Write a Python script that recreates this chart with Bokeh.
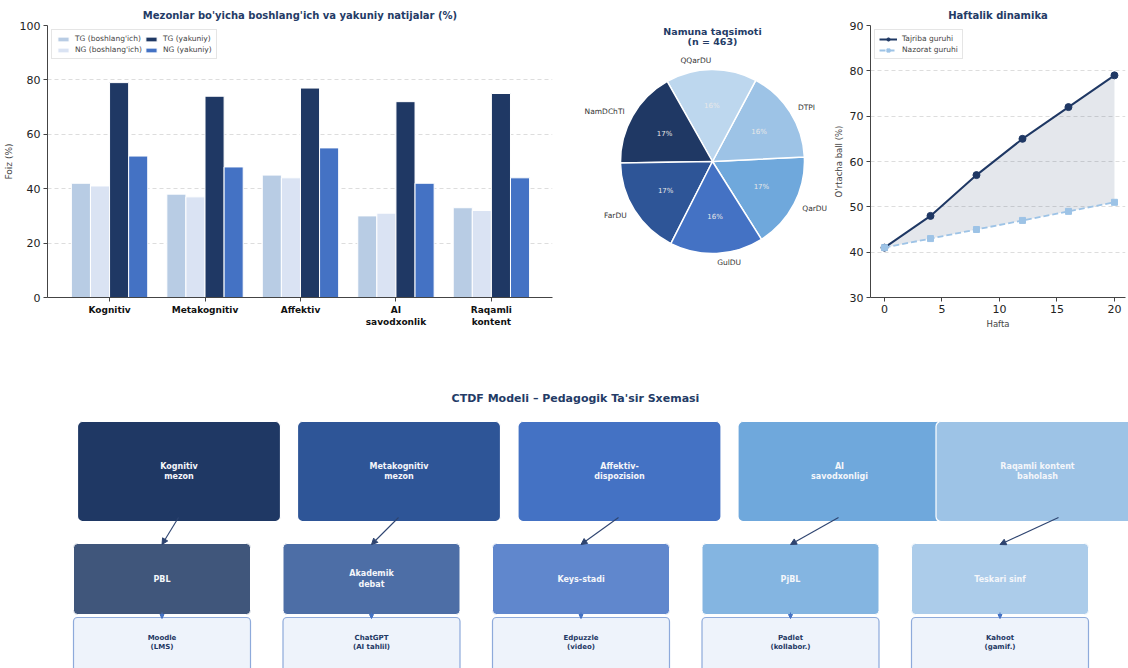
import numpy as np
from bokeh.plotting import figure
from bokeh.layouts import row, column
from bokeh.models import (ColumnDataSource, Legend, LegendItem, FixedTicker, Range1d,
                          Arrow, NormalHead, Label)
from bokeh.core.properties import value
from bokeh.embed import file_html
from bokeh.resources import INLINE

FONT = "DejaVu Sans"
NAVY = "#1f3864"
TITLE_C = "#243b66"

# ---------------- data ----------------
criteria = ["Kognitiv", "Metakognitiv", "Affektiv", "AI\nsavodxonlik", "Raqamli\nkontent"]
tg_pre = [42, 38, 45, 30, 33]
ng_pre = [41, 37, 44, 31, 32]
tg_post = [79, 74, 77, 72, 75]
ng_post = [52, 48, 55, 42, 44]
bar_series = ["TG (boshlang'ich)", "NG (boshlang'ich)", "TG (yakuniy)", "NG (yakuniy)"]

universities = ["QarDU", "DTPI", "QQarDU", "NamDChTI", "FarDU", "GulDU"]
counts = [78, 76, 74, 79, 80, 76]
pie_title = ["Namuna taqsimoti", "(n = 463)"]

weeks = [0, 4, 8, 12, 16, 20]
tg_weekly = [41, 48, 57, 65, 72, 79]
ng_weekly = [41, 43, 45, 47, 49, 51]

criteria_boxes = ["Kognitiv\nmezon", "Metakognitiv\nmezon", "Affektiv-\ndispozision",
                  "AI\nsavodxonligi", "Raqamli kontent\nbaholash"]
methods = ["PBL", "Akademik\ndebat", "Keys-stadi", "PjBL", "Teskari sinf"]
tools = ["Moodle\n(LMS)", "ChatGPT\n(AI tahlil)", "Edpuzzle\n(video)", "Padlet\n(kollabor.)", "Kahoot\n(gamif.)"]

# ---------------- styles ----------------
bar_colors = ["#b8cce4", "#dae3f3", "#1f3864", "#4472c4"]
pie_colors = ["#6fa8dc", "#9dc3e6", "#bdd7ee", "#1f3864", "#2e5597", "#4472c4"]
box_colors = ["#1f3864", "#2e5597", "#4472c4", "#6fa8dc", "#9dc3e6"]


def style_axes(p):
    p.outline_line_color = None
    p.xgrid.grid_line_color = None
    p.ygrid.grid_line_color = "#dddddd"
    p.ygrid.grid_line_dash = "4 3"
    for ax in (p.xaxis, p.yaxis):
        ax.axis_line_color = "#444444"
        ax.major_tick_line_color = "#444444"
        ax.minor_tick_line_color = None
        ax.major_tick_out = 4
        ax.major_tick_in = 0
        ax.major_label_standoff = 3
        ax.axis_label_standoff = 3
        ax.major_label_text_font = FONT
        ax.axis_label_text_font = FONT
        ax.axis_label_text_font_style = "normal"
        ax.major_label_text_color = "#222222"
    p.title.text_font = FONT
    p.title.text_font_style = "bold"
    p.title.text_color = TITLE_C
    p.title.align = "center"


# ---------------- bar chart ----------------
p1 = figure(width=560, height=335, x_range=Range1d(-0.65, 4.64), y_range=Range1d(0, 100),
            output_backend="svg", toolbar_location=None,
            min_border_left=47, min_border_right=8, min_border_top=25, min_border_bottom=38,
            title="Mezonlar bo'yicha boshlang'ich va yakuniy natijalar (%)")
style_axes(p1)
p1.title.text_font_size = "10px"
xs = np.arange(len(criteria))
w = 0.2
offsets = [-1.5 * w, -0.5 * w, 0.5 * w, 1.5 * w]
items = []
for vals, name, col, off in zip([tg_pre, ng_pre, tg_post, ng_post], bar_series, bar_colors, offsets):
    r = p1.vbar(x=xs + off, top=vals, width=w, fill_color=col, line_color="white", line_width=1)
    items.append(LegendItem(label=name, renderers=[r]))
p1.xaxis.ticker = FixedTicker(ticks=list(range(len(criteria))))
p1.xaxis.major_label_overrides = {i: c for i, c in enumerate(criteria)}
p1.xaxis.major_label_text_font_style = "bold"
p1.xaxis.major_label_text_font_size = "9px"
p1.xaxis.major_label_text_color = "#111111"
p1.yaxis.ticker = FixedTicker(ticks=[0, 20, 40, 60, 80, 100])
p1.yaxis.major_label_text_font_size = "11px"
p1.yaxis.axis_label = "Foiz (%)"
p1.yaxis.axis_label_text_font_size = "9px"
leg1 = Legend(items=items, location="top_left", ncols=2,
              label_text_font=FONT, label_text_font_size="7.5px", glyph_width=14, glyph_height=6,
              label_height=9, spacing=2, padding=4, margin=4, border_line_color="#cccccc",
              background_fill_alpha=0.9, label_standoff=5)
p1.add_layout(leg1)

# ---------------- pie chart ----------------
p2 = figure(frame_width=270, frame_height=272, x_range=Range1d(-1.652, 1.283), y_range=Range1d(-1.478, 1.478),
            output_backend="svg", toolbar_location=None,
            min_border_left=0, min_border_right=0, min_border_top=25, min_border_bottom=38,
            x_axis_type=None, y_axis_type=None, title_location=None)
p2.grid.grid_line_color = None
p2.outline_line_color = None
total = sum(counts)
start0 = np.deg2rad(-57.8)
fr = np.array(counts) / total * 2 * np.pi
ends = start0 + np.cumsum(fr)
starts = ends - fr
mids = (starts + ends) / 2
p2.wedge(x=0, y=0, radius=1, start_angle=starts, end_angle=ends, fill_color=pie_colors,
         line_color="white", line_width=1.5)
pct = [f"{round(100 * c / total)}%" for c in counts]
p2.text(x=0.6 * np.cos(mids), y=0.6 * np.sin(mids), text=pct, text_align="center",
        text_baseline="middle", text_font=value(FONT), text_font_size="7px", text_color="#e8e8e8")
lx = 1.1 * np.cos(mids)
ly = 1.1 * np.sin(mids)
aligns = ["left" if c > 0 else "right" for c in np.cos(mids)]
p2.text(x=lx, y=ly, text=universities, text_align=aligns, text_baseline="middle",
        text_font=value(FONT), text_font_size="7.5px", text_color="#333333")
for t, yy in zip(pie_title, [1.415, 1.305]):
    p2.add_layout(Label(x=0, y=yy, text=t, text_align="center", text_baseline="middle",
                        text_font=FONT, text_font_size="9.5px", text_font_style="bold",
                        text_color=TITLE_C))

# ---------------- line chart ----------------
p3 = figure(width=298, height=335, x_range=Range1d(-1.217, 20.96), y_range=Range1d(30, 90),
            output_backend="svg", toolbar_location=None,
            min_border_left=40, min_border_right=3, min_border_top=25, min_border_bottom=38,
            title="Haftalik dinamika")
style_axes(p3)
p3.title.text_font_size = "10px"
p3.varea(x=weeks, y1=ng_weekly, y2=tg_weekly, fill_color=NAVY, fill_alpha=0.12)
l_tg = p3.line(weeks, tg_weekly, line_color=NAVY, line_width=2)
s_tg = p3.scatter(weeks, tg_weekly, marker="circle", size=7, fill_color=NAVY, line_color=NAVY)
l_ng = p3.line(weeks, ng_weekly, line_color="#9dc3e6", line_width=1.8, line_dash="6 3")
s_ng = p3.scatter(weeks, ng_weekly, marker="square", size=6, fill_color="#9dc3e6", line_color="#9dc3e6")
p3.xaxis.ticker = FixedTicker(ticks=[0, 5, 10, 15, 20])
p3.yaxis.ticker = FixedTicker(ticks=[30, 40, 50, 60, 70, 80, 90])
p3.xaxis.major_label_text_font_size = "11px"
p3.yaxis.major_label_text_font_size = "11px"
p3.xaxis.axis_label = "Hafta"
p3.yaxis.axis_label = "O'rtacha ball (%)"
p3.xaxis.axis_label_text_font_size = "8.5px"
p3.yaxis.axis_label_text_font_size = "8.5px"
leg3 = Legend(items=[LegendItem(label="Tajriba guruhi", renderers=[l_tg, s_tg]),
                     LegendItem(label="Nazorat guruhi", renderers=[l_ng, s_ng])],
              location="top_left", label_text_font=FONT, label_text_font_size="7.5px",
              glyph_width=18, glyph_height=8, label_height=9, spacing=2, padding=4, margin=4,
              border_line_color="#cccccc", background_fill_alpha=0.9, label_standoff=5)
p3.add_layout(leg3)

# ---------------- diagram ----------------
p4 = figure(frame_width=1128, frame_height=333, x_range=Range1d(0, 1128), y_range=Range1d(668, 335),
            output_backend="svg", toolbar_location=None, min_border=0,
            x_axis_type=None, y_axis_type=None, title_location=None)
p4.grid.grid_line_color = None
p4.outline_line_color = None

top_cx = [178.5, 398.5, 619, 839, 1037]
arrow_sx = [178, 398, 618, 838, 1058]
mid_cx = [161.5 + 209.5 * i for i in range(5)]
top_w, top_y0, top_y1 = 203, 421, 521
mid_w, mid_y0, mid_y1 = 177, 543, 614
bot_y0, bot_y1 = 617, 674

p4.text(x=[575], y=[398], text=["CTDF Modeli \u2013 Pedagogik Ta'sir Sxemasi"], text_align="center",
        text_baseline="middle", text_font=value(FONT), text_font_size="11px", text_font_style="bold",
        text_color=TITLE_C)

tcx = np.array(top_cx)
p4.quad(left=tcx - top_w / 2, right=tcx + top_w / 2, top=top_y0, bottom=top_y1,
        fill_color=box_colors, line_color="white", line_width=1.2, border_radius=5)
p4.text(x=tcx, y=(top_y0 + top_y1) / 2, text=criteria_boxes, text_align="center", text_baseline="middle",
        text_font=value(FONT), text_font_size="8px", text_font_style="bold", text_color="#f4f6fa",
        text_line_height=1.15)

mcx = np.array(mid_cx)
p4.quad(left=mcx - mid_w / 2, right=mcx + mid_w / 2, top=mid_y0, bottom=mid_y1,
        fill_color=box_colors, fill_alpha=0.85, line_color="white", line_width=1, border_radius=4)
p4.text(x=mcx, y=(mid_y0 + mid_y1) / 2, text=methods, text_align="center", text_baseline="middle",
        text_font=value(FONT), text_font_size="8px", text_font_style="bold", text_color="#f4f6fa",
        text_line_height=1.15)

p4.quad(left=mcx - mid_w / 2, right=mcx + mid_w / 2, top=bot_y0, bottom=bot_y1,
        fill_color="#eef3fb", line_color="#8eaadb", line_width=1.2, border_radius=4)
p4.text(x=mcx, y=[642] * 5, text=tools, text_align="center", text_baseline="middle",
        text_font=value(FONT), text_font_size="7px", text_font_style="bold", text_color=NAVY,
        text_line_height=1.15)

arr_src = ColumnDataSource(dict(xs=arrow_sx, ys=[517] * 5, xe=mid_cx, ye=[544] * 5))
p4.add_layout(Arrow(source=arr_src, x_start="xs", y_start="ys", x_end="xe", y_end="ye",
                    line_color="#2e4470", line_width=1.1,
                    end=NormalHead(size=6, fill_color="#2e4470", line_color="#2e4470", line_width=1)))
arr2 = ColumnDataSource(dict(xs=mid_cx, ys=[612] * 5, xe=mid_cx, ye=[618] * 5))
p4.add_layout(Arrow(source=arr2, x_start="xs", y_start="ys", x_end="xe", y_end="ye",
                    line_color="#4472c4", line_width=1,
                    end=NormalHead(size=4, fill_color="#4472c4", line_color="#4472c4", line_width=1)))

layout = column(row(p1, p2, p3), p4)
open("out.html", "w").write(file_html(layout, INLINE))
